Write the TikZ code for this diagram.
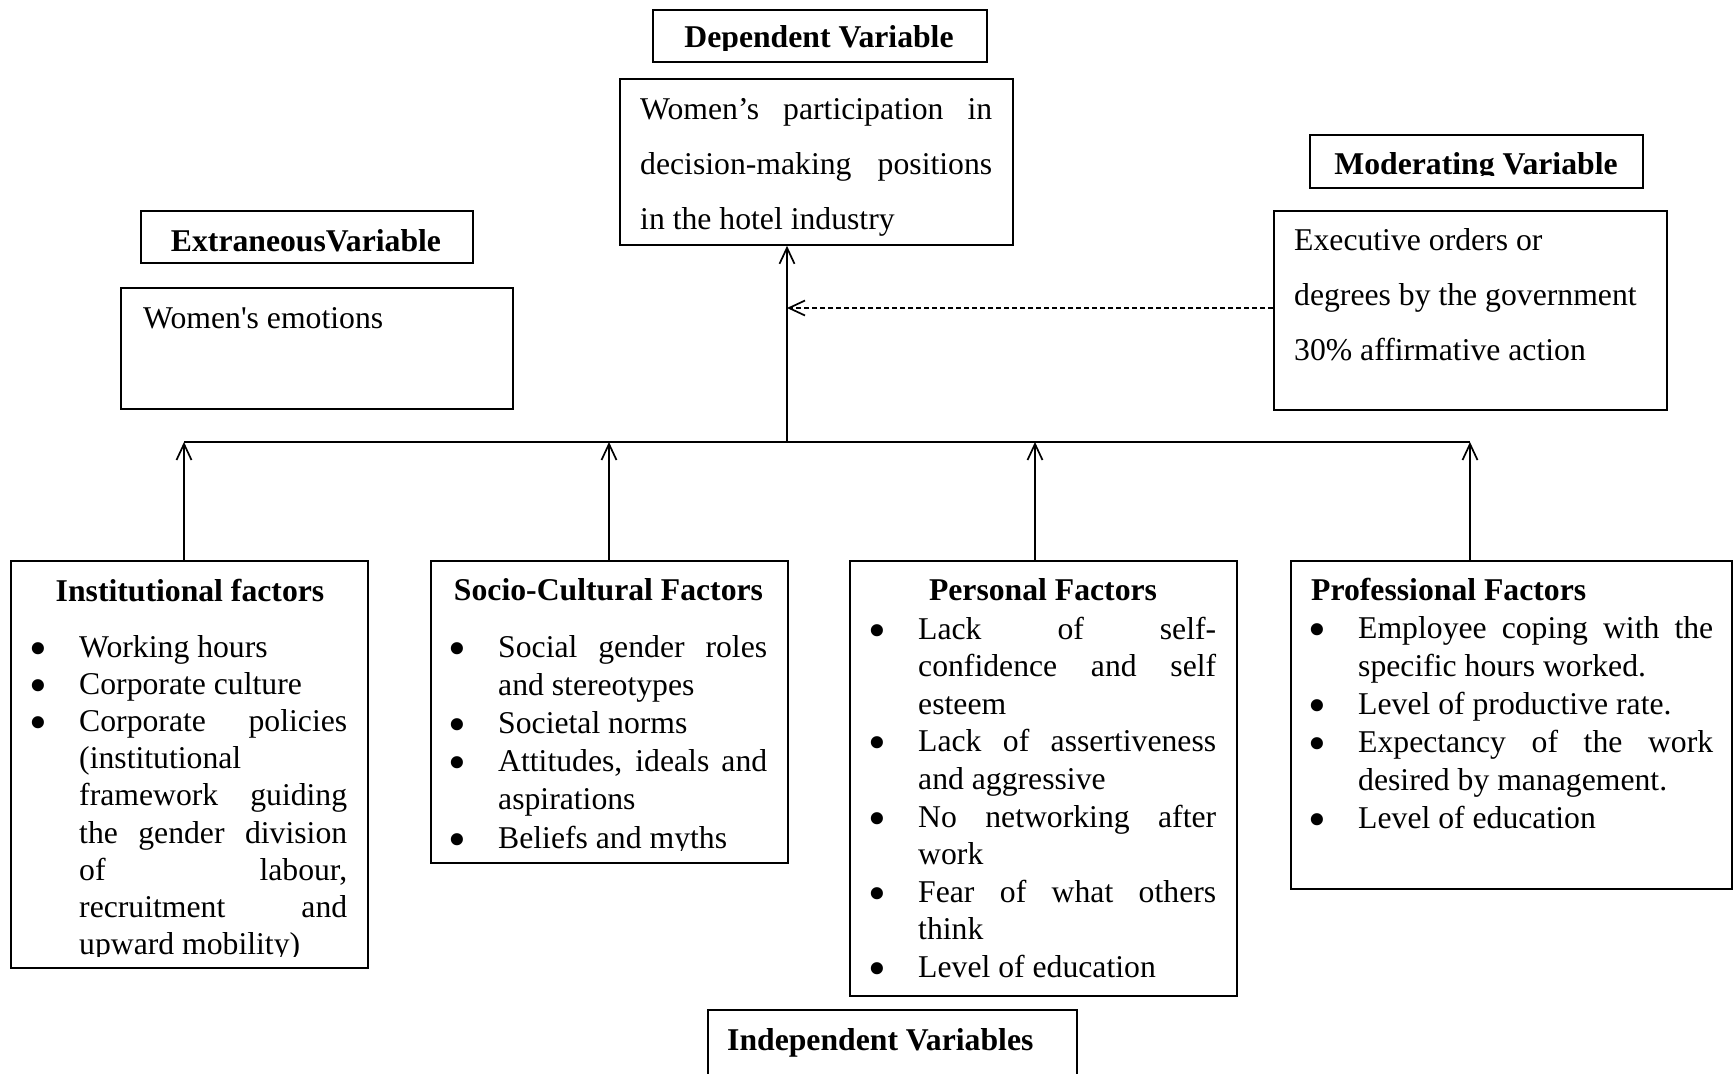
\documentclass[tikz,border=0pt]{standalone}
\usepackage{fontspec}
\setmainfont{Liberation Serif}[Ligatures=TeXOff]
\usetikzlibrary{arrows.meta}
\newcommand\bigbul{\smash{\raisebox{-8pt}{\scalebox{1.6}{\textbullet}}}}
\newcommand\BJ[2]{\hbox{\hbox to 41pt{\hskip-8.9pt\bigbul\hfil}\hbox to #1{#2}}}
\newcommand\BL[2]{\hbox{\hbox to 41pt{\hskip-8.9pt\bigbul\hfil}\hbox to #1{#2\hfil}}}
\newcommand\CJ[2]{\hbox{\hskip41pt\hbox to #1{#2}}}
\newcommand\CL[2]{\hbox{\hskip41pt\hbox to #1{#2\hfil}}}
\begin{document}
\begin{tikzpicture}[x=1pt,y=-1pt,
  box/.style={draw, line width=1.8pt, inner sep=0pt, anchor=north west},
  txt/.style={inner sep=0pt, anchor=base west, font=\fontsize{31.7}{37.5}\selectfont},
  ttl/.style={inner sep=0pt, anchor=base, font=\fontsize{31.7}{37.5}\selectfont\bfseries},
  line/.style={line width=1.7pt},
  arr/.style={line width=1.7pt, -{Straight Barb[length=16pt,width=15pt,line width=1.7pt]}},
  darr/.style={arr, dash pattern=on 5pt off 3pt}]
\useasboundingbox (0,0) rectangle (1733,1074);
\fill[white] (0,0) rectangle (1733,1074);
% boxes
\node[box, minimum width=334pt, minimum height=52pt] (hdep) at (652,9) {};
\node[box, minimum width=393pt, minimum height=166pt] (dep) at (619,78) {};
\node[box, minimum width=333pt, minimum height=53pt] (hmod) at (1309,134) {};
\node[box, minimum width=393pt, minimum height=199pt] (mod) at (1273,210) {};
\node[box, minimum width=332pt, minimum height=52pt] (hext) at (140,210) {};
\node[box, minimum width=392pt, minimum height=121pt] (ext) at (120,287) {};
\node[box, minimum width=357pt, minimum height=407pt] (ins) at (10,560) {};
\node[box, minimum width=357pt, minimum height=302pt] (soc) at (430,560) {};
\node[box, minimum width=387pt, minimum height=435pt] (per) at (849,560) {};
\node[box, minimum width=441pt, minimum height=328pt] (pro) at (1290,560) {};
\node[box, minimum width=369pt, minimum height=90pt] (hind) at (707,1009) {};
% headers
\begin{scope}
\clip (652,9) rectangle (986,50);
\node[ttl] (thdep) at (819,47.7) {Dependent Variable};
\end{scope}
\begin{scope}
\clip (1309,134) rectangle (1642,175);
\node[ttl] (thmod) at (1476,174) {Moderating Variable};
\end{scope}
\node[ttl] (thext) at (306,251) {ExtraneousVariable};
\node[ttl, anchor=base west] (thind) at (727,1050) {Independent Variables};
% upper texts
\node[txt] (tdep) at (640,119.3) {\vtop{\baselineskip=55.3pt\lineskiplimit=-1000pt
  \hbox to 352pt{Women’s participation in}
  \hbox to 352pt{decision-making positions}
  \hbox to 352pt{in the hotel industry\hfil}}};
\node[txt] (tmod) at (1294,250) {\vtop{\baselineskip=55pt\lineskiplimit=-1000pt
  \hbox{Executive orders or}
  \hbox{degrees by the government}
  \hbox{30\% affirmative action}}};
\node[txt] (temo) at (143,328) {Women's emotions};
% factor titles
\node[ttl] (tins) at (190,601) {Institutional factors};
\node[ttl] (tsoc) at (608.5,600.6) {Socio-Cultural Factors};
\node[ttl] (tper) at (1043,600) {Personal Factors};
\node[ttl, anchor=base west] (tpro) at (1311,600) {Professional Factors};
% factor lists
\begin{scope}
\clip (0,540) rectangle (400,956);
\node[txt] (lins) at (38,657.5) {\vtop{\baselineskip=37.1pt\lineskiplimit=-1000pt
  \BL{268pt}{Working hours}
  \BL{268pt}{Corporate culture}
  \BJ{268pt}{Corporate policies}
  \CL{268pt}{(institutional}
  \CJ{268pt}{framework guiding}
  \CJ{268pt}{the gender division}
  \CJ{268pt}{of labour,}
  \CJ{268pt}{recruitment and}
  \CL{268pt}{upward mobility)}}};
\end{scope}
\begin{scope}
\clip (400,540) rectangle (820,850);
\node[txt] (lsoc) at (457,657.5) {\vtop{\baselineskip=38.1pt\lineskiplimit=-1000pt
  \BJ{269pt}{Social gender roles}
  \CL{269pt}{and stereotypes}
  \BL{269pt}{Societal norms}
  \BJ{269pt}{Attitudes, ideals and}
  \CL{269pt}{aspirations}
  \BL{269pt}{Beliefs and myths}}};
\end{scope}
\node[txt] (lper) at (877,639) {\vtop{\baselineskip=37.6pt\lineskiplimit=-1000pt
  \BJ{298pt}{Lack of self-}
  \CJ{298pt}{confidence and self}
  \CL{298pt}{esteem}
  \BJ{298pt}{Lack of assertiveness}
  \CL{298pt}{and aggressive}
  \BJ{298pt}{No networking after}
  \CL{298pt}{work}
  \BJ{298pt}{Fear of what others}
  \CL{298pt}{think}
  \BL{298pt}{Level of education}}};
\node[txt] (lpro) at (1317,638) {\vtop{\baselineskip=38pt\lineskiplimit=-1000pt
  \BJ{355pt}{Employee coping with the}
  \CL{355pt}{specific hours worked.}
  \BL{355pt}{Level of productive rate.}
  \BJ{355pt}{Expectancy of the work}
  \CL{355pt}{desired by management.}
  \BL{355pt}{Level of education}}};
% connectors
\coordinate (bl) at (184,442);
\coordinate (b2) at (609,442);
\coordinate (bc) at (787,442);
\coordinate (b3) at (1035,442);
\coordinate (br) at (1470,442);
\coordinate (dm) at (787,308);
\draw[line] (bl) -- (br);
\draw[arr] (bl |- ins.north) -- (bl);
\draw[arr] (b2 |- soc.north) -- (b2);
\draw[arr] (b3 |- per.north) -- (b3);
\draw[arr] (br |- pro.north) -- (br);
\draw[arr] (bc) -- (bc |- dep.south);
\draw[darr] (dm -| mod.west) -- (dm);
\end{tikzpicture}
\end{document}
